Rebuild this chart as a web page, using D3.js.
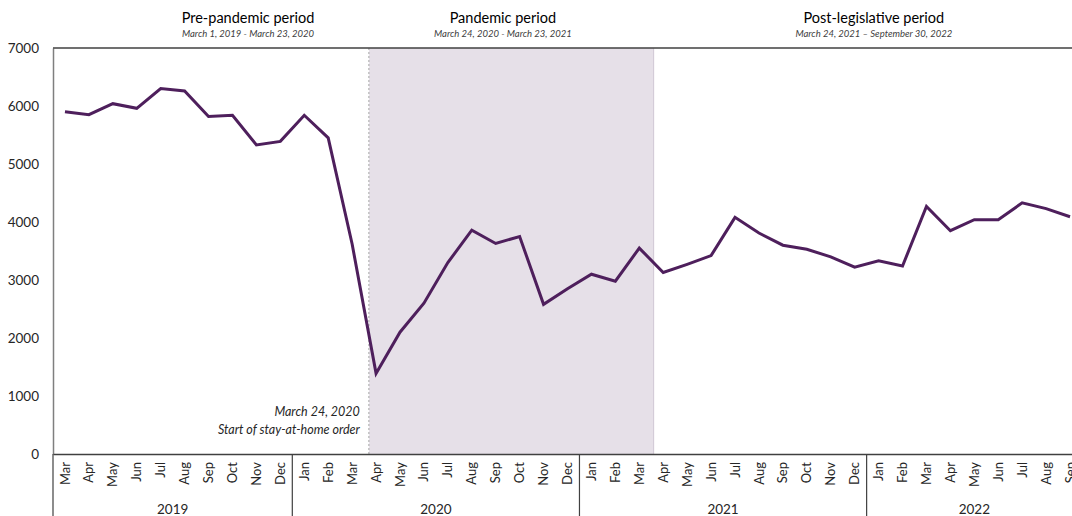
<!DOCTYPE html>
<html>
<head>
<meta charset="utf-8">
<script src="https://cdn.jsdelivr.net/npm/d3@7"></script>
<style>
  body { margin: 0; background: #fff; }
  svg { display: block; font-family: Lato, "Noto Sans", sans-serif; }
</style>
</head>
<body>
<div id="chart"></div>
<script>
// monthly counts, March 2019 - September 2022
const months = ['Mar','Apr','May','Jun','Jul','Aug','Sep','Oct','Nov','Dec',
  'Jan','Feb','Mar','Apr','May','Jun','Jul','Aug','Sep','Oct','Nov','Dec',
  'Jan','Feb','Mar','Apr','May','Jun','Jul','Aug','Sep','Oct','Nov','Dec',
  'Jan','Feb','Mar','Apr','May','Jun','Jul','Aug','Sep']
const years = ['2019', '2020', '2021', '2022']
const yearSpans = [10, 12, 12, 9]
const values = [5900, 5850, 6040, 5960, 6300, 6260, 5820, 5840, 5330, 5390,
  5840, 5450, 3620, 1390, 2100, 2600, 3300, 3860, 3630, 3750, 2580, 2850,
  3100, 2980, 3550, 3130, 3270, 3420, 4080, 3810, 3600, 3530, 3400, 3220,
  3330, 3240, 4270, 3850, 4040, 4040, 4330, 4230, 4090]
const yTicks = [0, 1000, 2000, 3000, 4000, 5000, 6000, 7000]
// period headers, centre given in month-index units
const periods = [
  { title: 'Pre-pandemic period', sub: 'March 1, 2019 - March 23, 2020', center: 8.15 },
  { title: 'Pandemic period', sub: 'March 24, 2020 - March 23, 2021', center: 18.8 },
  { title: 'Post-legislative period', sub: 'March 24, 2021 \u2013 September 30, 2022', center: 34.3 }
]
const shadeStart = 13.2
const shadeEnd = 25.1

const width = 1072
const height = 516
const margin = { top: 48, left: 53, bottom: 62 }
const plotRight = 1082 // chart runs past the window edge

const svg = d3.select('#chart').append('svg')
  .attr('width', width)
  .attr('height', height)

const idx = d3.range(values.length)
const x = d3.scaleBand().domain(idx).range([margin.left, plotRight]).padding(0)
const bw = x.bandwidth()
const xPos = d3.scaleLinear().domain([0, values.length]).range([margin.left, plotRight])
const y = d3.scaleLinear().domain([0, 7000]).range([height - margin.bottom, margin.top])
const y0 = y(0)

// pandemic shading
svg.append('rect')
  .attr('x', xPos(shadeStart))
  .attr('y', y(7000))
  .attr('width', xPos(shadeEnd) - xPos(shadeStart))
  .attr('height', y0 - y(7000))
  .attr('fill', '#e6e0e8')
svg.append('line')
  .attr('x1', xPos(shadeEnd)).attr('x2', xPos(shadeEnd))
  .attr('y1', y(7000)).attr('y2', y0)
  .attr('stroke', '#d0c8d4').attr('stroke-width', 1)

// stay-at-home marker
svg.append('line')
  .attr('x1', xPos(shadeStart)).attr('x2', xPos(shadeStart))
  .attr('y1', y(7000)).attr('y2', y0)
  .attr('stroke', '#a6a6a6')
  .attr('stroke-width', 1)
  .attr('stroke-dasharray', '2,2')

const note = svg.append('text')
  .attr('text-anchor', 'end')
  .attr('font-style', 'italic')
  .attr('font-size', 12.5)
  .attr('fill', '#262626')
note.append('tspan').attr('x', xPos(shadeStart) - 9).attr('y', 416).text('March 24, 2020')
note.append('tspan').attr('x', xPos(shadeStart) - 9).attr('y', 434).text('Start of stay-at-home order')

// y axis
const yAxis = svg.append('g')
  .attr('transform', `translate(${margin.left},0)`)
  .call(d3.axisLeft(y).tickValues(yTicks).tickSize(0).tickPadding(14).tickFormat(d3.format('d')))
yAxis.select('.domain').attr('stroke', '#7f7f7f').attr('stroke-width', 1.5)
yAxis.selectAll('text').attr('font-size', 13.5).attr('fill', '#262626')
  .attr('font-family', 'Lato, "Noto Sans", sans-serif')

// top frame line
svg.append('line')
  .attr('x1', margin.left).attr('x2', width)
  .attr('y1', y(7000)).attr('y2', y(7000))
  .attr('stroke', '#404040').attr('stroke-width', 1.5)

// x axis with month labels
const xAxis = svg.append('g')
  .attr('transform', `translate(0,${y0})`)
  .call(d3.axisBottom(x).tickSize(0).tickFormat(i => months[i]))
xAxis.select('.domain').attr('stroke', '#404040').attr('stroke-width', 1.5)
xAxis.selectAll('text')
  .attr('transform', 'rotate(-90)')
  .attr('text-anchor', 'end')
  .attr('x', -8)
  .attr('y', 0)
  .attr('dy', '0.35em')
  .attr('font-size', 13)
  .attr('fill', '#262626')
  .attr('font-family', 'Lato, "Noto Sans", sans-serif')

// year groups
let start = 0
const yearBounds = yearSpans.map(n => {
  const b = [start, start + n]
  start += n
  return b
})
svg.selectAll('.year-div')
  .data(yearBounds)
  .join('line')
  .attr('class', 'year-div')
  .attr('x1', d => xPos(d[0])).attr('x2', d => xPos(d[0]))
  .attr('y1', y0).attr('y2', height)
  .attr('stroke', '#404040').attr('stroke-width', 1.2)
svg.selectAll('.year-label')
  .data(yearBounds)
  .join('text')
  .attr('class', 'year-label')
  .attr('x', d => xPos((d[0] + d[1]) / 2))
  .attr('y', 514)
  .attr('text-anchor', 'middle')
  .attr('font-size', 13.5)
  .attr('fill', '#262626')
  .text((d, i) => years[i])

// series line
const line = d3.line()
  .x(i => x(i) + bw / 2)
  .y(i => y(values[i]))
svg.append('path')
  .datum(idx)
  .attr('d', line)
  .attr('fill', 'none')
  .attr('stroke', '#4e1f5c')
  .attr('stroke-width', 3)
  .attr('stroke-linejoin', 'miter')

// period headers
svg.selectAll('.period-title')
  .data(periods)
  .join('text')
  .attr('class', 'period-title')
  .attr('x', d => xPos(d.center))
  .attr('y', 23)
  .attr('text-anchor', 'middle')
  .attr('font-size', 14.5)
  .attr('fill', '#000')
  .text(d => d.title)
svg.selectAll('.period-sub')
  .data(periods)
  .join('text')
  .attr('class', 'period-sub')
  .attr('x', d => xPos(d.center))
  .attr('y', 37)
  .attr('text-anchor', 'middle')
  .attr('font-size', 9.5)
  .attr('font-style', 'italic')
  .attr('fill', '#404040')
  .text(d => d.sub)
</script>
</body>
</html>
